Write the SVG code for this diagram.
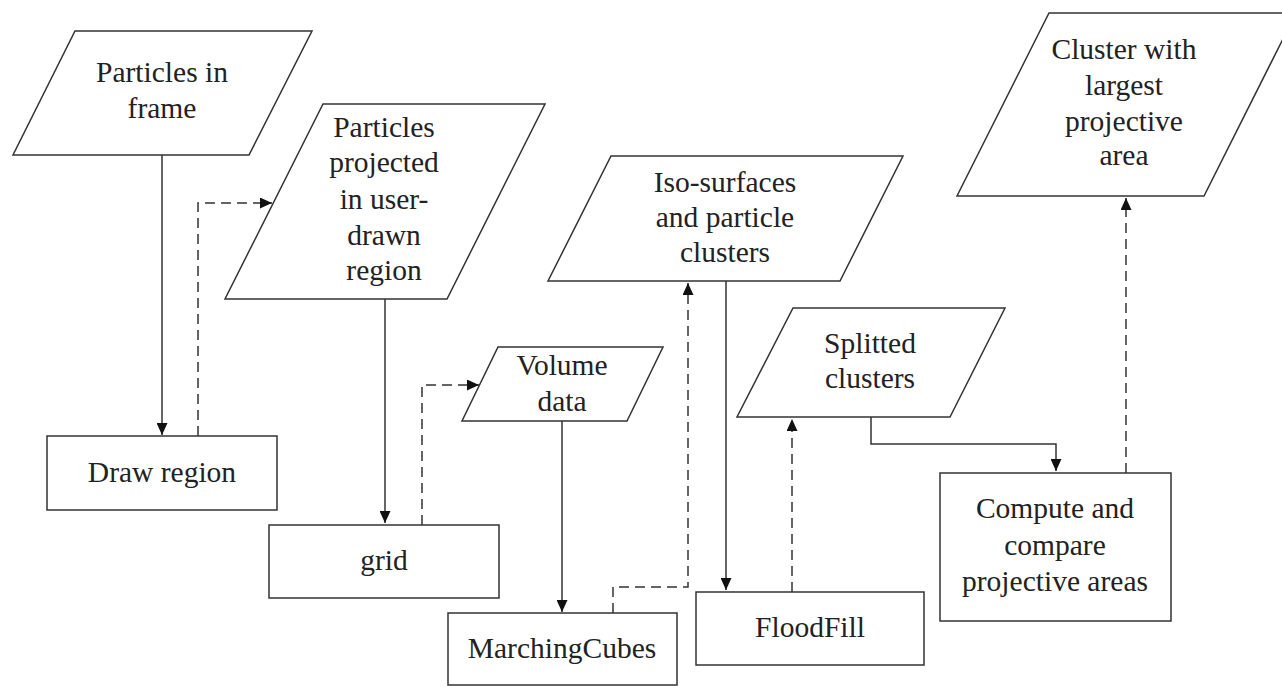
<svg xmlns="http://www.w3.org/2000/svg" width="1282" height="686" viewBox="0 0 1282 686">
  <defs>
    <marker id="arrow" viewBox="0 0 12 11" refX="12" refY="5.5" markerWidth="12" markerHeight="11" markerUnits="userSpaceOnUse" orient="auto">
      <path d="M0,0 L12,5.5 L0,11 z" fill="#111"/>
    </marker>
    <style>
      .shape { fill: #fff; stroke: #333; stroke-width: 1.5; }
      .label { font-family: "Liberation Serif", "Times New Roman", serif; font-size: 29.5px; fill: #222; text-anchor: middle; }
      .flow { fill: none; stroke: #333; stroke-width: 1.5; marker-end: url(#arrow); }
      .dash { stroke-dasharray: 10 6; }
    </style>
  </defs>
  <rect width="1282" height="686" fill="#fff"/>

  <!-- connectors -->
  <g id="connectors">
    <path class="flow" d="M162,155 V435"/>
    <path class="flow dash" d="M198,436 V203 H272"/>
    <path class="flow" d="M385,299 V523"/>
    <path class="flow dash" d="M422,525 V385 H479"/>
    <path class="flow" d="M562,421 V612"/>
    <path class="flow dash" d="M613,613 V587 H688 V283"/>
    <path class="flow" d="M726,281 V590"/>
    <path class="flow dash" d="M792,592 V419"/>
    <path class="flow" d="M871,417 V444 H1056 V471"/>
    <path class="flow dash" d="M1126,473 V198"/>
  </g>

  <!-- data nodes (parallelograms) -->
  <g id="particles-in-frame">
    <polygon class="shape" points="75,31 312,31 249,155 13,155"/>
    <text class="label" x="162" y="82">Particles in</text>
    <text class="label" x="162" y="118">frame</text>
  </g>

  <g id="particles-projected">
    <polygon class="shape" points="323,104 545,104 447,299 225,299"/>
    <text class="label" x="384" y="137">Particles</text>
    <text class="label" x="384" y="172">projected</text>
    <text class="label" x="384" y="209">in user-</text>
    <text class="label" x="384" y="245">drawn</text>
    <text class="label" x="384" y="280">region</text>
  </g>

  <g id="volume-data">
    <polygon class="shape" points="498,347 663,347 627,421 462,421"/>
    <text class="label" x="562" y="375">Volume</text>
    <text class="label" x="562" y="411">data</text>
  </g>

  <g id="iso-surfaces">
    <polygon class="shape" points="611,156 903,156 840,281 548,281"/>
    <text class="label" x="725" y="192">Iso-surfaces</text>
    <text class="label" x="725" y="227">and particle</text>
    <text class="label" x="725" y="262">clusters</text>
  </g>

  <g id="splitted-clusters">
    <polygon class="shape" points="793,308 1005,308 950,417 737,417"/>
    <text class="label" x="870" y="353">Splitted</text>
    <text class="label" x="870" y="388">clusters</text>
  </g>

  <g id="largest-cluster">
    <polygon class="shape" points="1049,13 1296,13 1204,196 957,196"/>
    <text class="label" x="1124" y="59">Cluster with</text>
    <text class="label" x="1124" y="95">largest</text>
    <text class="label" x="1124" y="131">projective</text>
    <text class="label" x="1124" y="165">area</text>
  </g>

  <!-- process nodes (rectangles) -->
  <g id="draw-region">
    <rect class="shape" x="47" y="436" width="230" height="74"/>
    <text class="label" x="162" y="482">Draw region</text>
  </g>

  <g id="grid">
    <rect class="shape" x="269" y="525" width="230" height="73"/>
    <text class="label" x="384" y="570">grid</text>
  </g>

  <g id="marching-cubes">
    <rect class="shape" x="448" y="613" width="229" height="72"/>
    <text class="label" x="562" y="658">MarchingCubes</text>
  </g>

  <g id="flood-fill">
    <rect class="shape" x="696" y="592" width="228" height="73"/>
    <text class="label" x="810" y="637">FloodFill</text>
  </g>

  <g id="compute-compare">
    <rect class="shape" x="940" y="473" width="231" height="148"/>
    <text class="label" x="1055" y="518">Compute and</text>
    <text class="label" x="1055" y="555">compare</text>
    <text class="label" x="1055" y="591">projective areas</text>
  </g>
</svg>
